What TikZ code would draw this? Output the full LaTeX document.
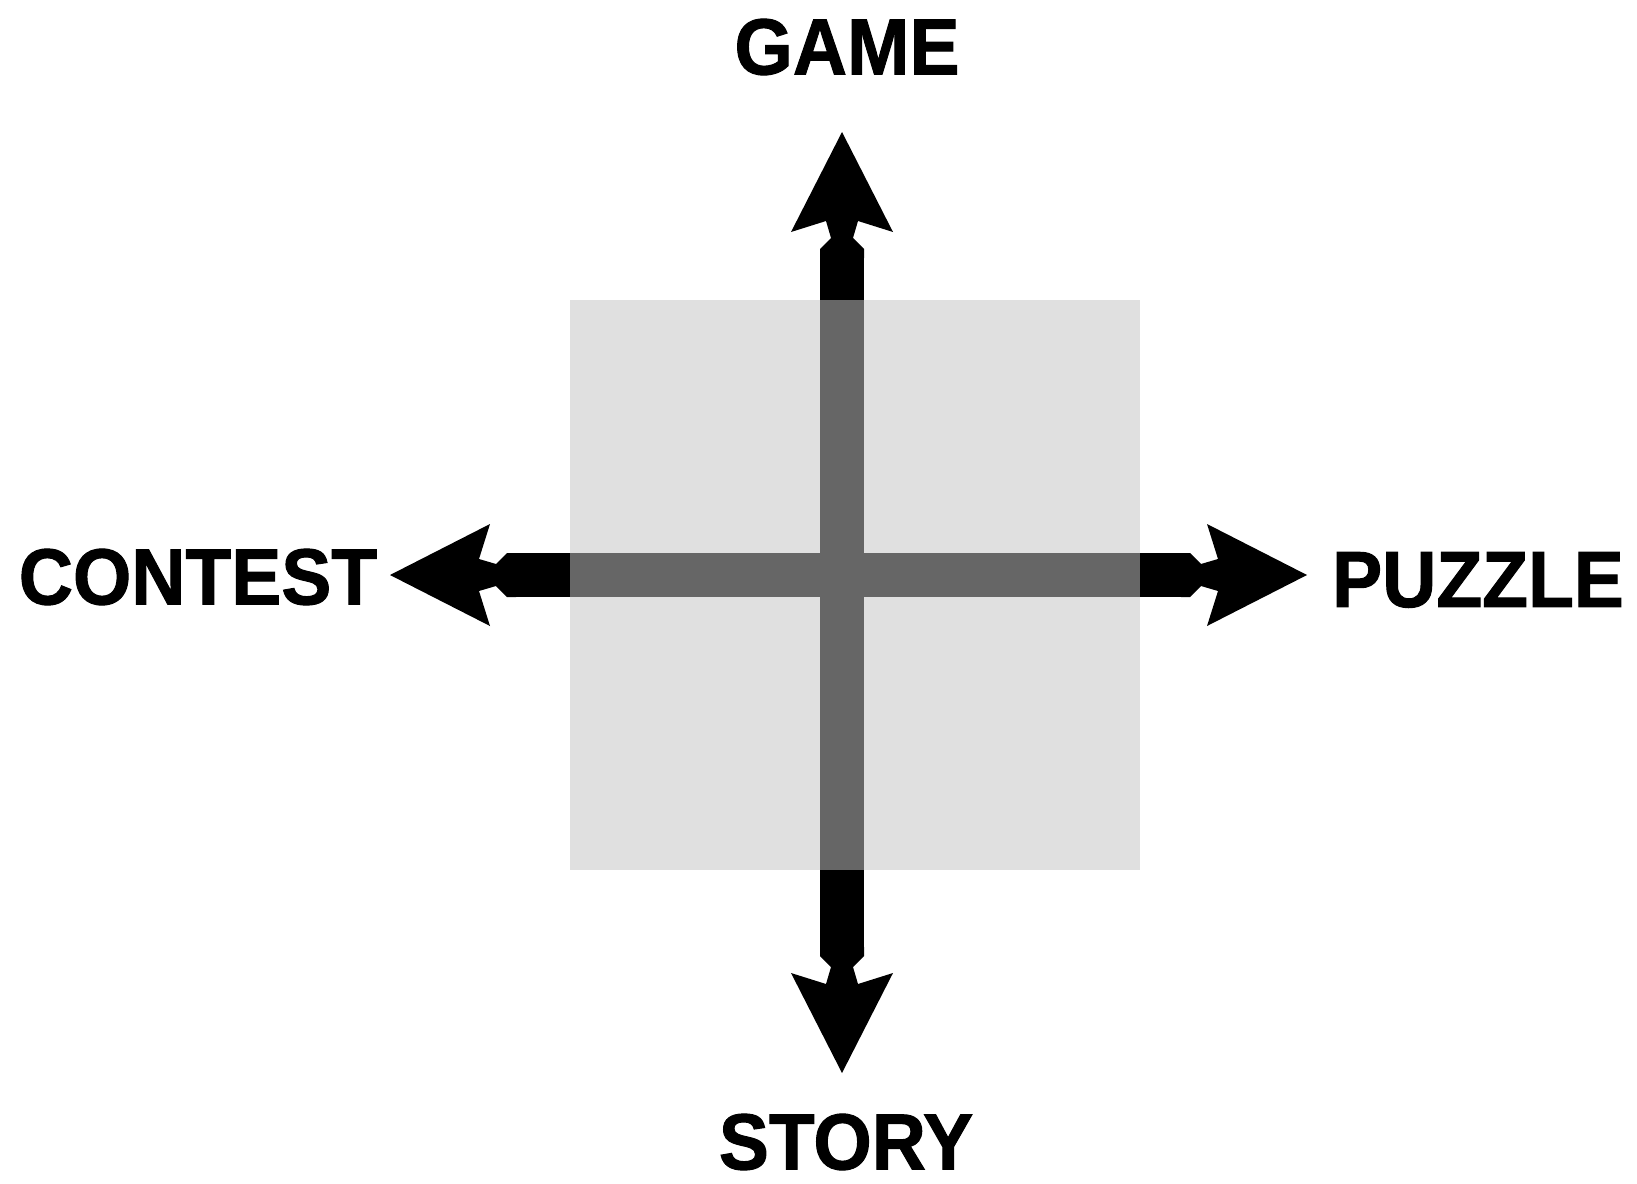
\documentclass[tikz,border=0pt]{standalone}
\usepackage{fontspec}
\setmainfont{Liberation Sans}
\newfontfamily\labfont{Liberation Sans}[FakeBold=1.3]
\begin{document}
\begin{tikzpicture}[x=1pt,y=-1pt,
  lab/.style={inner sep=0pt,font=\fontsize{75}{80}\labfont\bfseries,text=black},
  bar/.style={line width=44pt,black},
  veil/.style={fill={rgb,255:red,196;green,196;blue,196},fill opacity=0.52},
  headshape/.pic={\fill[black] (0,0) -- (-100,51) -- (-89,16) -- (-106,11)
      -- (-117,22) -- (-126,22) -- (-126,-22) -- (-117,-22) -- (-106,-11)
      -- (-89,-16) -- (-100,-51) -- cycle;}]
\useasboundingbox (0,0) rectangle (1637,1183);
\fill[white] (0,0) rectangle (1637,1183);
% tips and shoulders
\coordinate (tG) at (842,132);
\coordinate (tS) at (842,1073);
\coordinate (tC) at (390,575);
\coordinate (tP) at (1307,575);
\coordinate (sG) at (842,254);
\coordinate (sS) at (842,951);
\coordinate (sC) at (512,575);
\coordinate (sP) at (1185,575);
% labels
\node[lab] (game) at (847,47) {\scalebox{1}[1.06]{GAME}};
\node[lab] (story) at (846,1142) {\scalebox{1}[1.06]{STORY}};
\node[lab] (contest) at (198,577) {\scalebox{1}[1.06]{CONTEST}};
\node[lab] (puzzle) at (1478,580) {\scalebox{1}[1.06]{PUZZLE}};
% axes
\draw[bar] (sC) -- (sP);
\draw[bar] (sG) -- (sS);
\pic[rotate=90] at (tG) {headshape};
\pic[rotate=-90] at (tS) {headshape};
\pic[rotate=180] at (tC) {headshape};
\pic at (tP) {headshape};
% translucent square
\path[veil] (570,300) rectangle (1140,870);
\end{tikzpicture}
\end{document}
